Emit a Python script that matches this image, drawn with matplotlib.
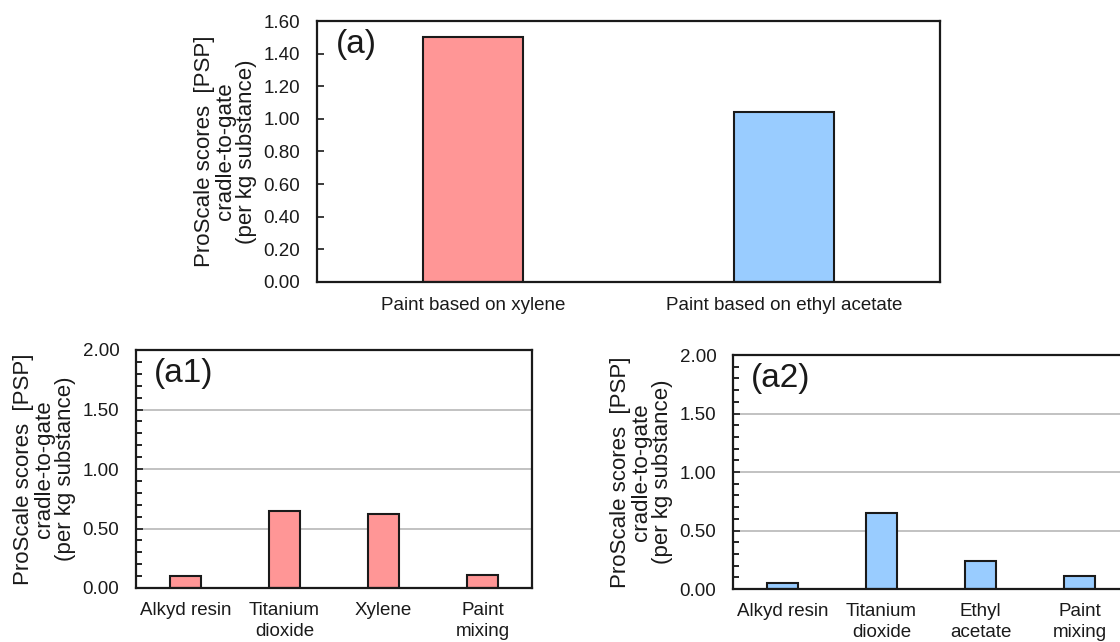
import numpy as np
import matplotlib
matplotlib.use('Agg')
from matplotlib import pyplot as plt
from matplotlib.ticker import MultipleLocator, FormatStrFormatter

plt.rcParams['font.family'] = ['Liberation Sans', 'DejaVu Sans']

# data
top_labels = ['Paint based on xylene', 'Paint based on ethyl acetate']
top_values = [1.50, 1.04]

a1_labels = ['Alkyd resin', 'Titanium\ndioxide', 'Xylene', 'Paint\nmixing']
a1_values = [0.10, 0.65, 0.62, 0.11]

a2_labels = ['Alkyd resin', 'Titanium\ndioxide', 'Ethyl\nacetate', 'Paint\nmixing']
a2_values = [0.05, 0.65, 0.24, 0.11]

red = '#ff9696'
blue = '#99ccff'
ink = '#1a1a1a'
ylab = 'ProScale scores  [PSP]\ncradle-to-gate\n(per kg substance)'
W, H = 1120, 642


def box(l, t, r, b):
    return [l / W, 1 - b / H, (r - l) / W, (b - t) / H]


def style(ax, labels, ymax, major, minor, grid, xpad):
    n = len(labels)
    ax.set_xlim(-0.5, n - 0.5)
    ax.set_ylim(0, ymax)
    ax.set_xticks(range(n))
    ax.set_xticklabels(labels, linespacing=1.3)
    ax.yaxis.set_major_locator(MultipleLocator(major))
    ax.yaxis.set_major_formatter(FormatStrFormatter('%.2f'))
    if minor:
        ax.yaxis.set_minor_locator(MultipleLocator(minor))
        ax.tick_params(axis='y', which='minor', direction='in', length=4, width=1.2)
    ax.tick_params(axis='y', which='major', direction='in', length=5, width=1.2,
                   labelsize=13.5, pad=12, colors=ink)
    ax.tick_params(axis='x', length=0, labelsize=13.5, pad=xpad, colors=ink)
    for s in ax.spines.values():
        s.set_linewidth(1.6)
        s.set_color(ink)
    if grid:
        for g in np.arange(major, ymax, major):
            ax.axhline(g, color='#b8b8b8', lw=1.2, zorder=0)
    ax.set_ylabel(ylab, fontsize=16, linespacing=1.0, color=ink, labelpad=5)


fig = plt.figure(figsize=(11.2, 6.42), dpi=100)

ax = fig.add_axes(box(317, 21, 940, 282))
ax.bar(range(len(top_values)), top_values, width=0.32, color=[red, blue],
       edgecolor=ink, linewidth=1.5, zorder=2)
style(ax, top_labels, 1.6, 0.2, None, False, 11)
ax.text(0.031, 0.97, '(a)', transform=ax.transAxes, fontsize=24, va='top', color=ink)

ax1 = fig.add_axes(box(136, 350, 532, 588))
ax1.bar(range(len(a1_values)), a1_values, width=0.32, color=red,
        edgecolor=ink, linewidth=1.5, zorder=2)
style(ax1, a1_labels, 2.0, 0.5, 0.1, True, 10)
ax1.text(0.045, 0.965, '(a1)', transform=ax1.transAxes, fontsize=24, va='top', color=ink)

ax2 = fig.add_axes(box(733, 355, 1129, 589))
ax2.bar(range(len(a2_values)), a2_values, width=0.32, color=blue,
         edgecolor=ink, linewidth=1.5, zorder=2)
style(ax2, a2_labels, 2.0, 0.5, 0.1, True, 10)
ax2.text(0.045, 0.965, '(a2)', transform=ax2.transAxes, fontsize=24, va='top', color=ink)

fig.savefig('out.png', dpi=100)
